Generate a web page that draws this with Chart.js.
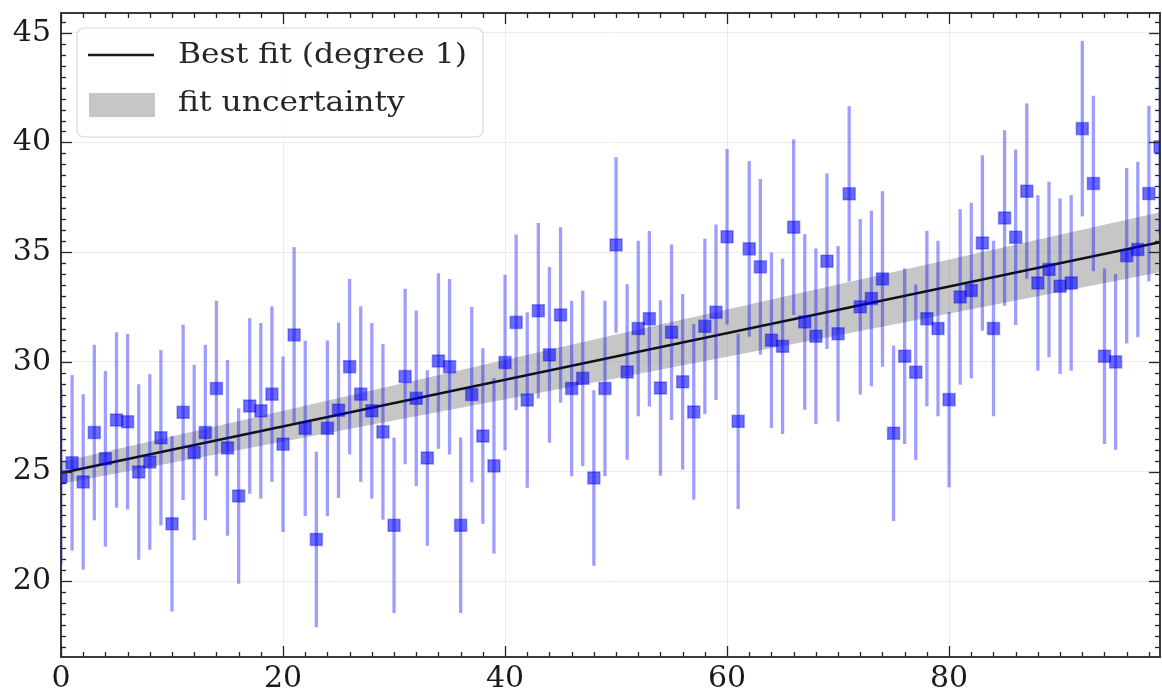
<!DOCTYPE html>
<html lang="en">
<head>
  <meta charset="UTF-8">
  <title>Best fit with uncertainty</title>
  <script src="https://cdn.jsdelivr.net/npm/chart.js"></script>
  <style>
    html, body { margin: 0; padding: 0; overflow: hidden; background: #ffffff; }
    canvas { display: block; }
  </style>
</head>
<body>
  <canvas id="fitChart" width="1162" height="695"></canvas>

  <script>
    // measured samples
    const xValues = [
      0, 1, 2, 3, 4, 5, 6, 7, 8, 9, 10, 11, 12, 13, 14, 15, 16, 17, 18, 19,
      20, 21, 22, 23, 24, 25, 26, 27, 28, 29, 30, 31, 32, 33, 34, 35, 36, 37, 38, 39,
      40, 41, 42, 43, 44, 45, 46, 47, 48, 49, 50, 51, 52, 53, 54, 55, 56, 57, 58, 59,
      60, 61, 62, 63, 64, 65, 66, 67, 68, 69, 70, 71, 72, 73, 74, 75, 76, 77, 78, 79,
      80, 81, 82, 83, 84, 85, 86, 87, 88, 89, 90, 91, 92, 93, 94, 95, 96, 97, 98, 99
    ];
    const yValues = [
      24.76, 25.40, 24.53, 26.78, 25.59, 27.35, 27.27, 24.98, 25.44, 26.54,
      22.62, 27.70, 25.87, 26.78, 28.79, 26.08, 23.89, 27.99, 27.77, 28.53,
      26.25, 31.23, 26.97, 21.91, 26.97, 27.80, 29.78, 28.53, 27.77, 26.81,
      22.55, 29.33, 28.34, 25.62, 30.04, 29.78, 22.55, 28.51, 26.62, 25.26,
      29.97, 31.80, 28.26, 32.33, 30.32, 32.14, 28.79, 29.25, 24.71, 28.79,
      35.33, 29.54, 31.52, 31.97, 28.81, 31.35, 29.09, 27.72, 31.62, 32.26,
      35.70, 27.29, 35.15, 34.33, 30.99, 30.71, 36.14, 31.82, 31.17, 34.59,
      31.28, 37.66, 32.51, 32.89, 33.78, 26.75, 30.26, 29.53, 31.97, 31.52,
      28.28, 32.96, 33.25, 35.42, 31.52, 36.56, 35.68, 37.78, 33.60, 34.21,
      33.45, 33.60, 40.63, 38.13, 30.26, 30.00, 34.84, 35.12, 37.67, 39.80
    ];
    const yError = 4.0;

    // fitted line and its band
    const fitX = [0, 99];
    const fitY = [24.94, 35.45];
    const bandX = [0, 25, 50, 75, 99];
    const bandUpper = [25.44, 28.35, 31.25, 34.10, 36.82];
    const bandLower = [24.44, 26.85, 29.25, 31.70, 34.08];

    const xTicks = [0, 20, 40, 60, 80];
    const yTicks = [20, 25, 30, 35, 40, 45];
    const legendLabels = ['Best fit (degree 1)', 'fit uncertainty'];

    const FONT = '"DejaVu Serif", "Liberation Serif", serif';

    const zip = (xs, ys) => xs.map((x, i) => ({ x: x, y: ys[i] }));

    // no automatic label padding, the plot box is pinned by layout.padding
    const noPadding = s => {
      s.paddingLeft = 0; s.paddingRight = 0; s.paddingTop = 0; s.paddingBottom = 0;
    };

    // vertical error bars, drawn just before the square markers
    const errorBars = {
      id: 'errorBars',
      beforeDatasetDraw(chart, args) {
        if (args.index !== 0) return;
        const { ctx, chartArea: a, scales: { x, y } } = chart;
        ctx.save();
        ctx.beginPath();
        ctx.rect(a.left, a.top, a.right - a.left, a.bottom - a.top);
        ctx.clip();
        ctx.strokeStyle = 'rgba(0, 0, 255, 0.38)';
        ctx.lineWidth = 3.3;
        xValues.forEach((xv, i) => {
          const px = x.getPixelForValue(xv);
          ctx.beginPath();
          ctx.moveTo(px, y.getPixelForValue(yValues[i] - yError));
          ctx.lineTo(px, y.getPixelForValue(yValues[i] + yError));
          ctx.stroke();
        });
        ctx.restore();
      }
    };

    // matplotlib-like frame with inward ticks on all four sides, plus legend
    const frame = {
      id: 'frame',
      afterDraw(chart) {
        const { ctx, chartArea: a, scales: { x, y } } = chart;
        ctx.save();
        ctx.strokeStyle = '#262626';
        ctx.lineWidth = 1.3;
        const tick = (x0, y0, x1, y1) => {
          ctx.beginPath(); ctx.moveTo(x0, y0); ctx.lineTo(x1, y1); ctx.stroke();
        };
        for (let v = 0; v <= 99; v += 2) {
          const px = Math.round(x.getPixelForValue(v)) + 0.5;
          const len = v % 20 === 0 ? 11 : 5;
          tick(px, a.bottom, px, a.bottom - len);
          tick(px, a.top, px, a.top + len);
        }
        for (let v = 17; v <= 45.9; v += 0.5) {
          const py = Math.round(y.getPixelForValue(v)) + 0.5;
          const len = v % 5 === 0 ? 11 : 5;
          tick(a.left, py, a.left + len, py);
          tick(a.right, py, a.right - len, py);
        }
        ctx.lineWidth = 1.8;
        ctx.strokeRect(a.left, a.top, a.right - a.left, a.bottom - a.top);
        ctx.restore();

        // legend box
        ctx.save();
        const bx = 77, by = 28, bw = 406, bh = 109;
        ctx.beginPath();
        ctx.roundRect(bx, by, bw, bh, 7);
        ctx.fillStyle = 'rgba(255, 255, 255, 0.82)';
        ctx.fill();
        ctx.strokeStyle = '#d9d9d9';
        ctx.lineWidth = 1.2;
        ctx.stroke();

        ctx.strokeStyle = '#1a1a1a';
        ctx.lineWidth = 2.5;
        ctx.beginPath(); ctx.moveTo(88, 55); ctx.lineTo(154, 55); ctx.stroke();
        ctx.fillStyle = 'rgba(128, 128, 128, 0.45)';
        ctx.fillRect(89, 93, 66, 24);

        ctx.fillStyle = '#262626';
        ctx.font = '28px ' + FONT;
        ctx.textBaseline = 'middle';
        // the reference text is a little wider than the font at this height
        ctx.translate(178, 0);
        ctx.scale(1.12, 1);
        ctx.fillText(legendLabels[0], 0, 56);
        ctx.fillText(legendLabels[1], 0, 104);
        ctx.restore();
      }
    };

    const ctx = document.getElementById('fitChart').getContext('2d');
    new Chart(ctx, {
      type: 'scatter',
      data: {
        datasets: [
          {
            label: 'data',
            data: zip(xValues, yValues),
            pointStyle: 'rect',
            pointRadius: 8.5,
            pointHoverRadius: 8.5,
            backgroundColor: 'rgba(0, 0, 255, 0.58)',
            borderColor: 'rgba(0, 0, 230, 0.35)',
            borderWidth: 1.5,
            clip: 0,
            order: 0
          },
          {
            type: 'line',
            label: legendLabels[0],
            data: zip(fitX, fitY),
            borderColor: '#111111',
            borderWidth: 2.5,
            pointRadius: 0,
            fill: false,
            order: 1
          },
          {
            type: 'line',
            label: legendLabels[1],
            data: zip(bandX, bandUpper),
            borderWidth: 0,
            borderColor: 'rgba(0,0,0,0)',
            backgroundColor: 'rgba(128, 128, 128, 0.45)',
            pointRadius: 0,
            fill: '+1',
            order: 2
          },
          {
            type: 'line',
            label: 'band lower',
            data: zip(bandX, bandLower),
            borderWidth: 0,
            borderColor: 'rgba(0,0,0,0)',
            pointRadius: 0,
            fill: false,
            order: 3
          }
        ]
      },
      options: {
        responsive: false,
        animation: false,
        events: [],
        layout: { autoPadding: false, padding: { top: 13, right: 2, left: 0, bottom: 0 } },
        plugins: {
          legend: { display: false },
          tooltip: { enabled: false }
        },
        scales: {
          x: {
            type: 'linear',
            min: 0,
            max: 99,
            afterFit: s => { s.height = 38; noPadding(s); },
            afterBuildTicks: s => { s.ticks = xTicks.map(v => ({ value: v })); },
            grid: { color: '#ececec', lineWidth: 1, drawTicks: false },
            border: { display: false },
            ticks: {
              includeBounds: false,
              padding: 4,
              color: '#1a1a1a',
              font: { family: FONT, size: 30 },
              maxRotation: 0
            }
          },
          y: {
            type: 'linear',
            min: 16.55,
            max: 45.9,
            afterFit: s => { s.width = 61; noPadding(s); },
            afterBuildTicks: s => { s.ticks = yTicks.map(v => ({ value: v })); },
            grid: { color: '#ececec', lineWidth: 1, drawTicks: false },
            border: { display: false },
            ticks: {
              includeBounds: false,
              padding: 10,
              color: '#1a1a1a',
              font: { family: FONT, size: 30 }
            }
          }
        }
      },
      plugins: [errorBars, frame]
    });
  </script>
</body>
</html>
